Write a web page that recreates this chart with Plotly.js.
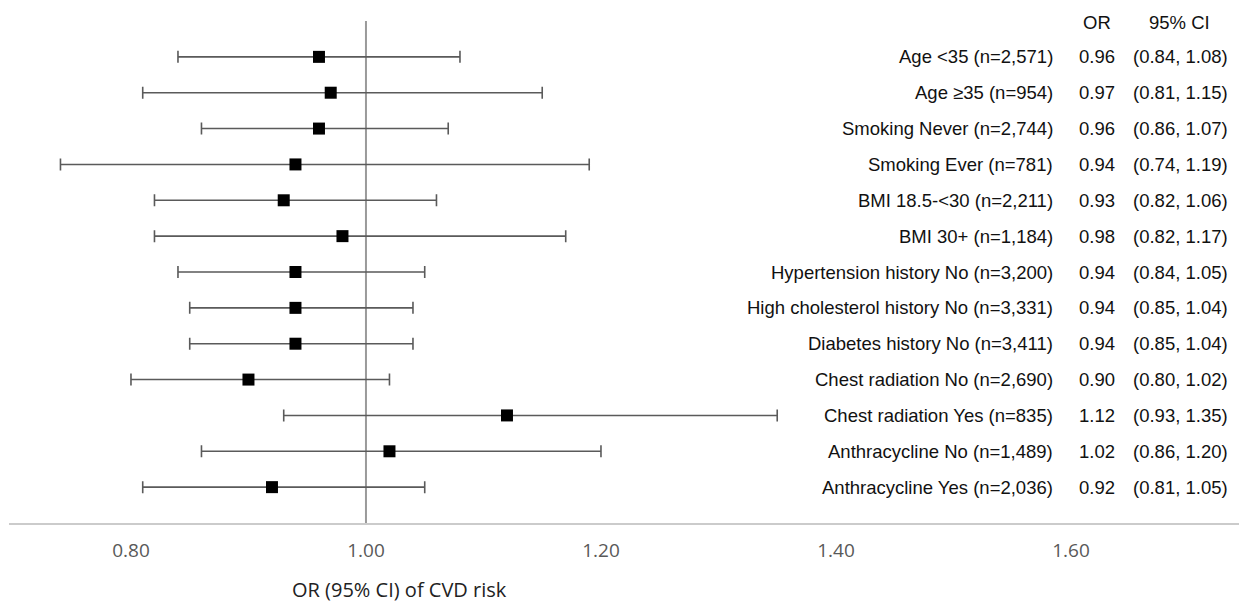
<!DOCTYPE html>
<html>
<head>
<meta charset="utf-8">
<script src="https://cdn.plot.ly/plotly-3.0.1.min.js"></script>
<style>html,body{margin:0;padding:0;background:#fff;}#chart{width:1239px;height:605px;}</style>
</head>
<body>
<div id="chart"></div>
<script>
const labels = ['Age <35 (n=2,571)', 'Age ≥35 (n=954)', 'Smoking Never (n=2,744)', 'Smoking Ever (n=781)',
  'BMI 18.5-<30 (n=2,211)', 'BMI 30+ (n=1,184)', 'Hypertension history No (n=3,200)',
  'High cholesterol history No (n=3,331)', 'Diabetes history No (n=3,411)', 'Chest radiation No (n=2,690)',
  'Chest radiation Yes (n=835)', 'Anthracycline No (n=1,489)', 'Anthracycline Yes (n=2,036)'];
const orVals = [0.96, 0.97, 0.96, 0.94, 0.93, 0.98, 0.94, 0.94, 0.94, 0.90, 1.12, 1.02, 0.92];
const ciLow  = [0.84, 0.81, 0.86, 0.74, 0.82, 0.82, 0.84, 0.85, 0.85, 0.80, 0.93, 0.86, 0.81];
const ciHigh = [1.08, 1.15, 1.07, 1.19, 1.06, 1.17, 1.05, 1.04, 1.04, 1.02, 1.35, 1.20, 1.05];
const tickVals = [0.8, 1.0, 1.2, 1.4, 1.6];
const tickText = ['0.80', '1.00', '1.20', '1.40', '1.60'];
const refValue = 1.0;

const txtFont = {family: 'Liberation Sans, Arial, sans-serif', size: 18.5, color: '#111'};

const trace = {
  type: 'scatter', mode: 'markers',
  x: orVals, y: labels,
  marker: {symbol: 'square', size: 12, color: '#000'},
  error_x: {
    type: 'data', symmetric: false,
    array: orVals.map((v, i) => +(ciHigh[i] - v).toFixed(4)),
    arrayminus: orVals.map((v, i) => +(v - ciLow[i]).toFixed(4)),
    color: '#5a5a5a', thickness: 1.6, width: 6
  },
  hoverinfo: 'skip', cliponaxis: false
};

const annotations = [];
labels.forEach((lab, i) => {
  annotations.push({xref: 'paper', yref: 'y', x: 0.8504, y: lab, text: lab, showarrow: false,
    xanchor: 'right', yanchor: 'middle', font: txtFont});
  annotations.push({xref: 'paper', yref: 'y', x: 0.8846, y: lab, text: orVals[i].toFixed(2), showarrow: false,
    xanchor: 'center', yanchor: 'middle', font: txtFont});
  annotations.push({xref: 'paper', yref: 'y', x: 0.9927, y: lab,
    text: '(' + ciLow[i].toFixed(2) + ', ' + ciHigh[i].toFixed(2) + ')', showarrow: false,
    xanchor: 'right', yanchor: 'middle', font: txtFont});
});
annotations.push({xref: 'paper', yref: 'y', x: 0.8846, y: -0.95, text: 'OR', showarrow: false,
  xanchor: 'center', yanchor: 'middle', font: txtFont});
annotations.push({xref: 'paper', yref: 'y', x: 0.9520, y: -0.95, text: '95% CI', showarrow: false,
  xanchor: 'center', yanchor: 'middle', font: txtFont});
annotations.push({xref: 'paper', yref: 'paper', x: 0.2285, y: -0.132, text: 'OR (95% CI) of CVD risk',
  showarrow: false, xanchor: 'left', yanchor: 'middle',
  font: {family: 'Open Sans, sans-serif', size: 20, color: '#222'}});

const layout = {
  width: 1239, height: 605,
  margin: {l: 9, r: 0, t: 21, b: 82, pad: 0},
  paper_bgcolor: '#fff', plot_bgcolor: '#fff',
  showlegend: false,
  xaxis: {
    range: [0.6962, 1.743], tickvals: tickVals, ticktext: tickText,
    showgrid: false, zeroline: false,
    showline: true, linecolor: '#cbcbcb', linewidth: 2,
    ticks: 'outside', ticklen: 9, tickcolor: 'rgba(0,0,0,0)',
    tickfont: {family: 'Open Sans, sans-serif', size: 19, color: '#595959'},
    fixedrange: true
  },
  yaxis: {
    type: 'category', categoryorder: 'array', categoryarray: labels,
    range: [13, -1], showticklabels: false, showgrid: false, zeroline: false,
    showline: false, ticks: '', fixedrange: true
  },
  shapes: [{type: 'line', xref: 'x', yref: 'paper', x0: refValue, x1: refValue, y0: 0, y1: 1,
    line: {color: '#9a9a9a', width: 2}, layer: 'below'}],
  annotations: annotations
};

Plotly.newPlot('chart', [trace], layout, {displayModeBar: false, staticPlot: true});
</script>
</body>
</html>
